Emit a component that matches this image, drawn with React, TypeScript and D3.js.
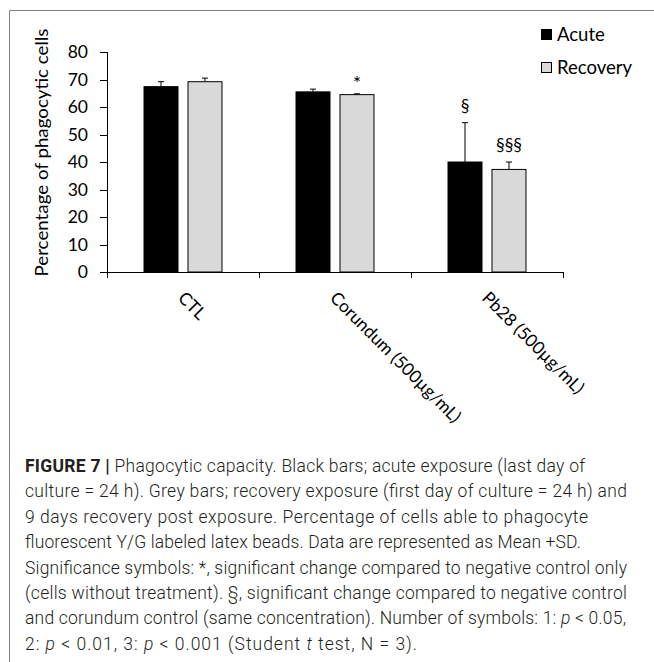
import React from "react";
import * as d3 from "d3";

const categories = ["CTL", "Corundum (500µg/mL)", "Pb28 (500µg/mL)"];
const seriesNames = ["Acute", "Recovery"];
const acuteMean = [67.4, 65.5, 40.0];
const acuteSD = [1.8, 1.0, 14.3];
const recoveryMean = [69.2, 64.5, 37.3];
const recoverySD = [1.3, 0.3, 2.7];
const acuteSig = ["", "", "§"];
const recoverySig = ["", "*", "§§§"];
const yTicks = [0, 10, 20, 30, 40, 50, 60, 70, 80];
const yTitle = "Percentage of phagocytic cells";

const captionLines = [
  "culture = 24 h). Grey bars; recovery exposure (first day of culture = 24 h) and",
  "9 days recovery post exposure. Percentage of cells able to phagocyte",
  "fluorescent Y/G labeled latex beads. Data are represented as Mean +SD.",
  "Significance symbols: *, significant change compared to negative control only",
  "(cells without treatment). §, significant change compared to negative control",
];

const FONT = "Lato, 'Open Sans', sans-serif";
const CAP = "Roboto, 'Liberation Sans', Arial, sans-serif";

export default function App() {
  const W = 654;
  const H = 662;
  const x0 = 107;
  const x1 = 563;
  const yBottom = 272;
  const yTop = 52;

  const x = d3.scaleBand<string>().domain(categories).range([x0, x1]).paddingInner(0).paddingOuter(0);
  const xs = d3
    .scaleBand<string>()
    .domain(seriesNames)
    .range([0, x.bandwidth()])
    .paddingInner(0.2045)
    .paddingOuter(0.83);
  const y = d3.scaleLinear().domain([0, 80]).range([yBottom, yTop]);

  const series = [
    { name: "Acute", mean: acuteMean, sd: acuteSD, sig: acuteSig, fill: "#000000" },
    { name: "Recovery", mean: recoveryMean, sd: recoverySD, sig: recoverySig, fill: "#d9d9d9" },
  ];

  const tickVals = [x0, ...categories.map((c) => (x(c) as number) + x.bandwidth())];

  const capX = 25;
  const capBase = 472;
  const capStep = 25.4;
  const lineLens = [560, 602, 563, 556, 602, 602, 601, 392];

  return (
    <svg
      width={W}
      height={H}
      viewBox={`0 0 ${W} ${H}`}
      style={{ position: "absolute", left: 0, top: 0, background: "#fff" }}
    >
      <rect x={0} y={0} width={W} height={H} fill="#fff" />
      {/* frame */}
      <line x1={9.5} y1={10.5} x2={W} y2={10.5} stroke="#808080" strokeWidth={1} />
      <line x1={9.5} y1={10.5} x2={9.5} y2={H} stroke="#808080" strokeWidth={1} />

      {/* y axis */}
      <line x1={x0 + 0.5} y1={y(80)} x2={x0 + 0.5} y2={yBottom} stroke="#000" strokeWidth={1} />
      {yTicks.map((t) => (
        <g key={t}>
          <line x1={x0 - 7} x2={x0 + 0.5} y1={Math.round(y(t)) + 0.5} y2={Math.round(y(t)) + 0.5} stroke="#000" />
          <text
            x={88}
            y={y(t)}
            dy="0.36em"
            textAnchor="end"
            fontFamily={FONT}
            fontSize={17.5}
            fill="#000"
          >
            {t}
          </text>
        </g>
      ))}
      <text
        transform={`translate(48, ${(28 + 277) / 2}) rotate(-90)`}
        textAnchor="middle"
        fontFamily={FONT}
        fontSize={17.5}
        fill="#000"
        textLength={248}
        lengthAdjust="spacingAndGlyphs"
      >
        {yTitle}
      </text>

      {/* x axis */}
      <line x1={x0} x2={x1 + 0.5} y1={yBottom + 0.5} y2={yBottom + 0.5} stroke="#000" />
      {tickVals.map((v, i) => (
        <line key={i} x1={v + 0.5} x2={v + 0.5} y1={yBottom} y2={yBottom + 6} stroke="#000" />
      ))}

      {/* bars */}
      {series.map((s) =>
        categories.map((c, i) => {
          const bx = (x(c) as number) + (xs(s.name) as number);
          const bw = xs.bandwidth();
          const top = y(s.mean[i]);
          const errTop = y(s.mean[i] + s.sd[i]);
          const cx = bx + bw / 2;
          return (
            <g key={s.name + c}>
              <line x1={cx} x2={cx} y1={top} y2={errTop} stroke="#000" />
              <line x1={cx - 3} x2={cx + 3} y1={errTop} y2={errTop} stroke="#000" />
              <rect
                x={bx + 0.5}
                y={top}
                width={bw - 1}
                height={yBottom - top}
                fill={s.fill}
                stroke="#000"
                strokeWidth={1}
              />
              {s.sig[i] && (
                <text
                  x={cx}
                  y={errTop - (s.sig[i] === "*" ? 4 : 11)}
                  textAnchor="middle"
                  fontFamily={FONT}
                  fontSize={s.sig[i] === "*" ? 19 : 17.5}
                  fill="#000"
                >
                  {s.sig[i]}
                </text>
              )}
            </g>
          );
        })
      )}

      {/* category labels */}
      {categories.map((c) => {
        const cx = (x(c) as number) + x.bandwidth() / 2;
        return (
          <text
            key={c}
            transform={`translate(${cx - 6}, 299) rotate(45)`}
            textAnchor="start"
            fontFamily={FONT}
            fontSize={17.5}
            fill="#000"
          >
            {c}
          </text>
        );
      })}

      {/* legend */}
      {series.map((s, i) => (
        <g key={s.name}>
          <rect x={541.5} y={29.5 + i * 33} width={10} height={10} fill={s.fill} stroke="#000" />
          <text x={557} y={40.5 + i * 33} fontFamily={FONT} fontSize={18.5} fill="#000">
            {s.name}
          </text>
        </g>
      ))}

      {/* caption */}
      <g fontFamily={CAP} fontSize={17.5} fill="#231f20" fontWeight={300}>
        <text x={capX} y={capBase} textLength={lineLens[0]} lengthAdjust="spacing">
          <tspan fontWeight={700}>FIGURE 7</tspan>
          <tspan fontWeight={700}> | </tspan>
          <tspan>Phagocytic capacity. Black bars; acute exposure (last day of</tspan>
        </text>
        {captionLines.map((l, i) => (
          <text
            key={i}
            x={capX}
            y={capBase + (i + 1) * capStep}
            textLength={lineLens[i + 1]}
            lengthAdjust="spacing"
          >
            {l}
          </text>
        ))}
        <text x={capX} y={capBase + 6 * capStep} textLength={lineLens[6]} lengthAdjust="spacing">
          <tspan>and corundum control (same concentration). Number of symbols: 1: </tspan>
          <tspan fontStyle="italic">p</tspan>
          <tspan> &lt; 0.05,</tspan>
        </text>
        <text x={capX} y={capBase + 7 * capStep} textLength={lineLens[7]} lengthAdjust="spacing">
          <tspan>2: </tspan>
          <tspan fontStyle="italic">p</tspan>
          <tspan> &lt; 0.01, 3: </tspan>
          <tspan fontStyle="italic">p</tspan>
          <tspan> &lt; 0.001 (Student </tspan>
          <tspan fontStyle="italic">t</tspan>
          <tspan> test, N = 3).</tspan>
        </text>
      </g>
    </svg>
  );
}
